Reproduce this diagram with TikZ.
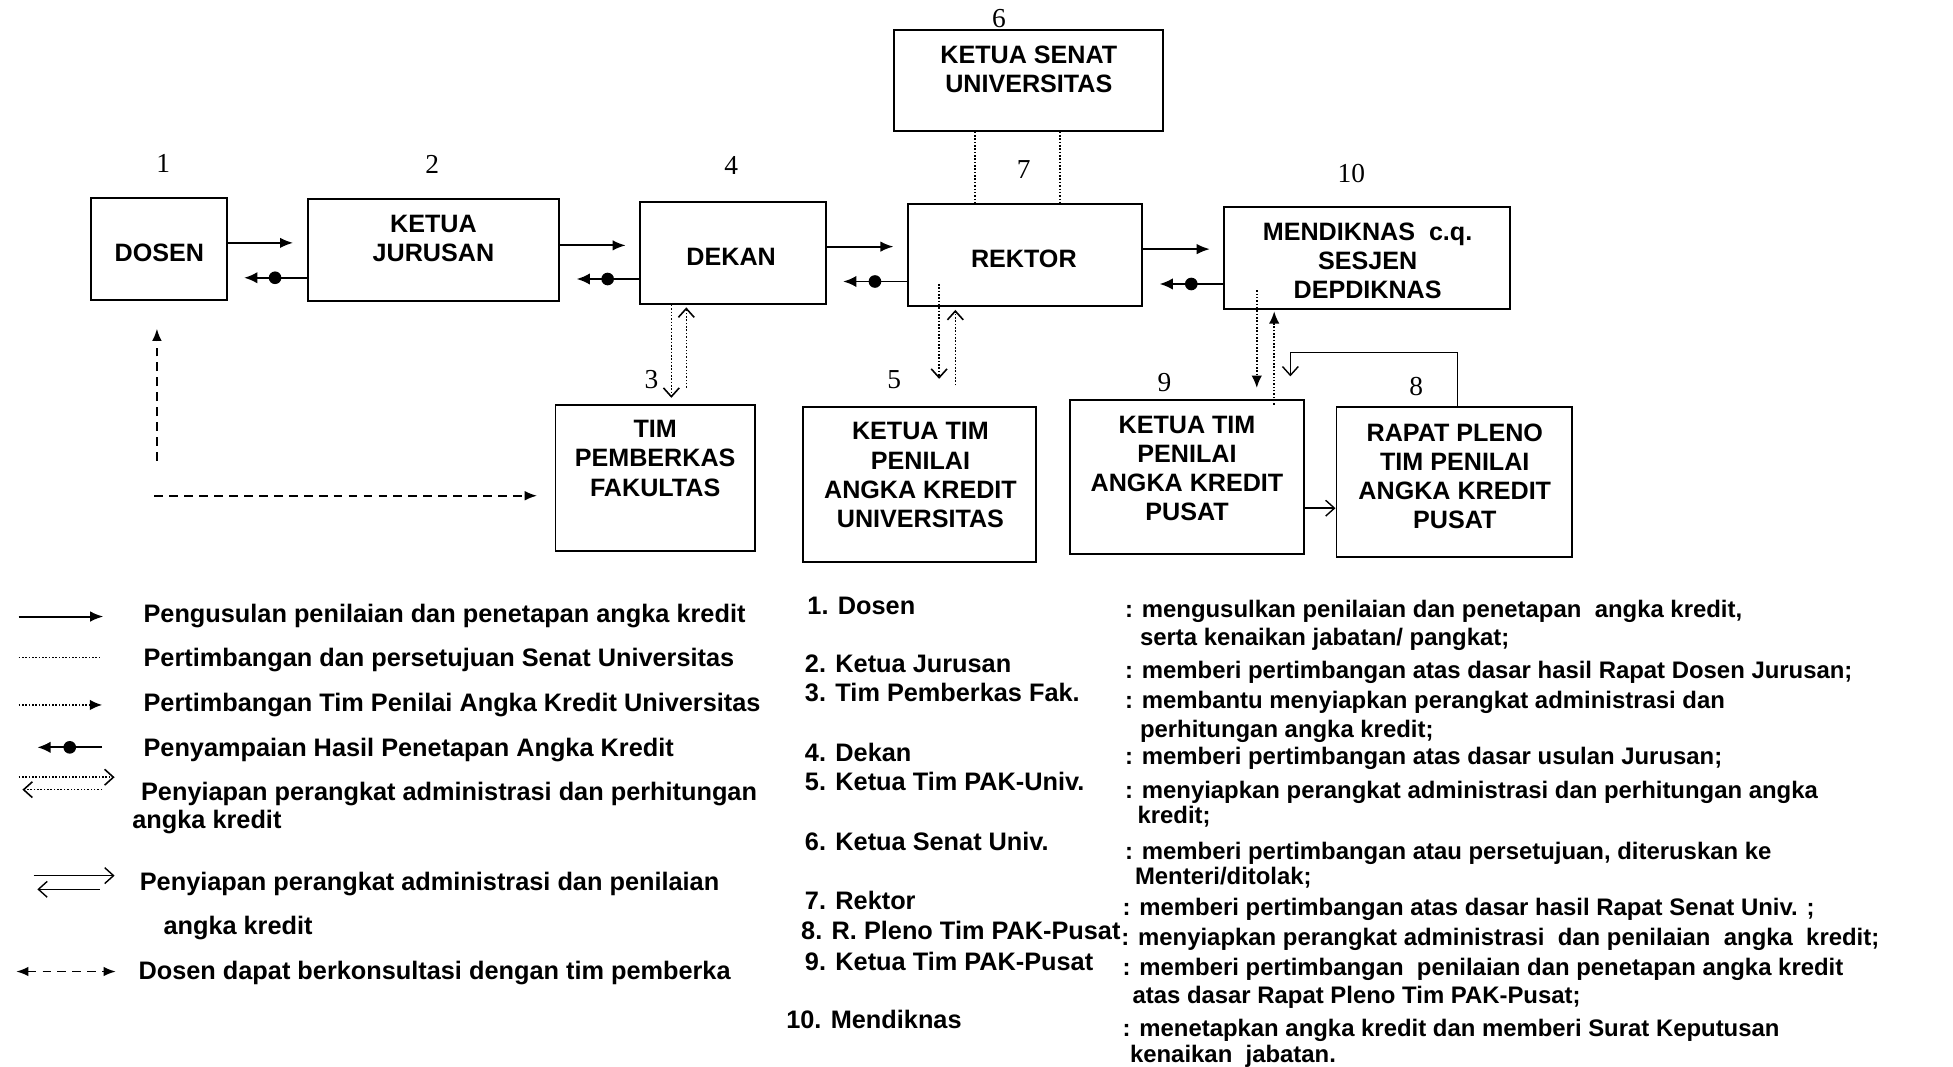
\documentclass[tikz,border=0pt]{standalone}
\usepackage{fontspec}
\setmainfont{Liberation Sans}
\newfontfamily\numfont{Liberation Serif}
\usetikzlibrary{arrows.meta,fit}

\tikzset{
  box/.style={draw, line width=1.1pt, inner sep=0pt},
  boxtext/.style={font=\bfseries\fontsize{14.3}{16.6}\selectfont, align=center, inner sep=0pt},
  num/.style={font=\numfont\fontsize{15.6}{18}\selectfont, inner sep=0pt},
  fwd/.style={line width=1.1pt, -{Latex[length=7.5pt,width=6pt]}},
  retarr/.style={line width=1.1pt, -{Latex[length=7.5pt,width=6.5pt]}},
  dotmark/.style={circle, fill, inner sep=0pt, minimum size=7.2pt},
  dotline/.style={densely dotted, line width=0.9pt},
  dotopen/.style={dotline, -{Straight Barb[length=5pt,width=9pt]}},
  dotfill/.style={dotline, -{Latex[length=7pt,width=6pt]}},
  thinopen/.style={line width=0.8pt, -{Straight Barb[length=5pt,width=9pt]}},
  konsul/.style={line width=1pt, dash pattern=on 5pt off 3.5pt, -{Latex[length=7pt,width=5.5pt]}},
  legtext/.style={font=\bfseries\fontsize{14.4}{17}\selectfont, anchor=base west, inner sep=0pt},
  desc/.style={font=\bfseries\fontsize{13.6}{16}\selectfont, anchor=base west, inner sep=0pt},
}

\begin{document}
\begin{tikzpicture}[x=2.491cm, y=-2.491cm]
      \useasboundingbox (0,0) rectangle (15.68,8.56);

      % boxes
      \node[box, fit={(7.18,0.24) (9.34,1.05)}] (senat) {};
      \node[box, fit={(0.73,1.59) (1.82,2.41)}] (dosen) {};
      \node[box, fit={(2.47,1.60) (4.49,2.42)}] (jurusan) {};
      \node[box, fit={(5.14,1.62) (6.63,2.44)}] (dekan) {};
      \node[box, fit={(7.29,1.64) (9.17,2.46)}] (rektor) {};
      \node[box, fit={(9.83,1.66) (12.12,2.48)}] (mendiknas) {};
      \node[box, fit={(4.46,3.25) (6.06,4.42)}] (pemberkas) {};
      \node[box, fit={(6.45,3.27) (8.32,4.51)}] (pakuniv) {};
      \node[box, fit={(8.59,3.21) (10.47,4.45)}] (pakpusat) {};
      \node[box, fit={(10.73,3.27) (12.62,4.47)}] (pleno) {};

      \node[boxtext] (senat-t) at (8.26, 0.56) {KETUA SENAT\\UNIVERSITAS};
      \node[boxtext] (dosen-t) at (1.28, 2.03) {DOSEN};
      \node[boxtext] (jurusan-t) at (3.48, 1.915) {KETUA\\JURUSAN};
      \node[boxtext] (dekan-t) at (5.87, 2.06) {DEKAN};
      \node[boxtext] (rektor-t) at (8.22, 2.08) {REKTOR};
      \node[boxtext] (mendiknas-t) at (10.98, 2.095) {MENDIKNAS\ \ c.q.\\SESJEN\\DEPDIKNAS};
      \node[boxtext] (pemberkas-t) at (5.26, 3.68) {TIM\\PEMBERKAS\\FAKULTAS};
      \node[boxtext] (pakuniv-t) at (7.39, 3.815) {KETUA TIM\\PENILAI\\ANGKA KREDIT\\UNIVERSITAS};
      \node[boxtext] (pakpusat-t) at (9.53, 3.76) {KETUA TIM\\PENILAI\\ANGKA KREDIT\\PUSAT};
      \node[boxtext] (pleno-t) at (11.68, 3.825) {RAPAT PLENO\\TIM PENILAI\\ANGKA KREDIT\\PUSAT};

      % numbers
      \node[num] (n6) at (8.02, 0.15) {6};
      \node[num] (n1) at (1.31, 1.31) {1};
      \node[num] (n2) at (3.47, 1.32) {2};
      \node[num] (n4) at (5.87, 1.33) {4};
      \node[num] (n7) at (8.22, 1.36) {7};
      \node[num] (n10) at (10.85, 1.39) {10};
      \node[num] (n3) at (5.23, 3.05) {3};
      \node[num] (n5) at (7.18, 3.05) {5};
      \node[num] (n9) at (9.35, 3.07) {9};
      \node[num] (n8) at (11.37, 3.10) {8};

      % usulan and hasil
      \draw[fwd, shorten >=0.27cm] (dosen.east |- 0,1.95) -- (jurusan.west |- 0,1.95);
      \draw[fwd, shorten >=0.27cm] (jurusan.east |- 0,1.97) -- (dekan.west |- 0,1.97);
      \draw[fwd, shorten >=0.27cm] (dekan.east |- 0,1.98) -- (rektor.west |- 0,1.98);
      \draw[fwd, shorten >=0.27cm] (rektor.east |- 0,2.00) -- (mendiknas.west |- 0,2.00);
      \draw[retarr, shorten >=0.33cm] (jurusan.west |- 0,2.23) -- node[dotmark, pos=0.4] (dot1) {} (dosen.east |- 0,2.23);
      \draw[retarr, shorten >=0.33cm] (dekan.west |- 0,2.24) -- node[dotmark, pos=0.4] (dot2) {} (jurusan.east |- 0,2.24);
      \draw[retarr, shorten >=0.33cm] (rektor.west |- 0,2.26) -- node[dotmark, pos=0.4] (dot3) {} (dekan.east |- 0,2.26);
      \draw[retarr, shorten >=0.33cm] (mendiknas.west |- 0,2.28) -- node[dotmark, pos=0.4] (dot4) {} (rektor.east |- 0,2.28);

      % senat
      \draw[dotline] (7.83,0 |- senat.south) -- (7.83,0 |- rektor.north);
      \draw[dotline] (8.51,0 |- senat.south) -- (8.51,0 |- rektor.north);

      % pemberkas and tim penilai
      \draw[dotopen, shorten >=0.12cm] (5.39,0 |- dekan.south) -- (5.39,0 |- pemberkas.north);
      \draw[dotopen, shorten <=0.32cm, shorten >=0.05cm] (5.51,0 |- pemberkas.north) -- (5.51,0 |- dekan.south);
      \coordinate (rektor-in) at (7.54,2.28);
      \draw[dotopen, shorten >=0.55cm] (rektor-in) -- (rektor-in |- pakuniv.north);
      \draw[dotopen, shorten <=0.42cm, shorten >=0.05cm] (7.67,0 |- pakuniv.north) -- (7.67,0 |- rektor.south);
      \coordinate (mendiknas-in) at (10.09,2.33);
      \coordinate (pakpusat-in) at (10.23,3.25);
      \draw[dotfill, shorten >=0.22cm] (mendiknas-in) -- (mendiknas-in |- pakpusat.north);
      \draw[dotfill, shorten >=0.03cm] (pakpusat-in) -- (pakpusat-in |- mendiknas.south);
      \draw[thinopen] (pakpusat.east |- 0,4.08) -- (pleno.west |- 0,4.08);
      \draw[thinopen, shorten >=0.45cm] (11.70,0 |- pleno.north) |- (10.36,2.83) -- (10.36,0 |- pakpusat.north);

      % konsultasi
      \coordinate (konsul-v) at (1.26,3.70);
      \coordinate (konsul-h) at (1.24,3.98);
      \draw[konsul, shorten >=0.55cm] (konsul-v) -- (konsul-v |- dosen.south);
      \draw[konsul, shorten >=0.35cm] (konsul-h) -- (konsul-h -| pemberkas.west);

      % legend
      \draw[fwd] (0.15,4.95) -- (0.83,4.95);
      \draw[dotline] (0.15,5.28) -- (0.81,5.28);
      \draw[dotfill] (0.15,5.66) -- (0.82,5.66);
      \draw[retarr] (0.82,6.00) -- node[dotmark, pos=0.5] (dotleg) {} (0.30,6.00);
      \draw[dotopen] (0.15,6.24) -- (0.92,6.24);
      \draw[dotopen] (0.82,6.34) -- (0.18,6.34);
      \draw[thinopen] (0.27,7.03) -- (0.92,7.03);
      \draw[thinopen] (0.80,7.14) -- (0.30,7.14);
      \draw[konsul, {Latex[length=7pt,width=5.5pt]}-{Latex[length=7pt,width=5.5pt]}] (0.13,7.80) -- (0.93,7.80);

      \node[legtext] (leg1) at (1.15, 5.00) {Pengusulan penilaian dan penetapan angka kredit};
      \node[legtext] (leg2) at (1.15, 5.35) {Pertimbangan dan persetujuan Senat Universitas};
      \node[legtext] (leg3) at (1.15, 5.71) {Pertimbangan Tim Penilai Angka Kredit Universitas};
      \node[legtext] (leg4) at (1.15, 6.07) {Penyampaian Hasil Penetapan Angka Kredit};
      \node[legtext] (leg5) at (1.13, 6.43) {Penyiapan perangkat administrasi dan perhitungan};
      \node[legtext] (leg5b) at (1.06, 6.65) {angka kredit};
      \node[legtext] (leg6) at (1.12, 7.15) {Penyiapan perangkat administrasi dan penilaian};
      \node[legtext] (leg6b) at (1.31, 7.50) {angka kredit};
      \node[legtext] (leg7) at (1.11, 7.86) {Dosen dapat berkonsultasi dengan tim pemberka};

      % keterangan
      \node[legtext] (lab1) at (6.48, 4.93) {1. Dosen};
      \node[legtext] (lab2) at (6.46, 5.40) {2. Ketua Jurusan};
      \node[legtext] (lab3) at (6.46, 5.63) {3. Tim Pemberkas Fak.};
      \node[legtext] (lab4) at (6.46, 6.11) {4. Dekan};
      \node[legtext] (lab5) at (6.46, 6.35) {5. Ketua Tim PAK-Univ.};
      \node[legtext] (lab6) at (6.46, 6.83) {6. Ketua Senat Univ.};
      \node[legtext] (lab7) at (6.46, 7.30) {7. Rektor};
      \node[legtext] (lab8) at (6.43, 7.54) {8. R. Pleno Tim PAK-Pusat};
      \node[legtext] (lab9) at (6.46, 7.79) {9. Ketua Tim PAK-Pusat};
      \node[legtext] (lab10) at (6.31, 8.26) {10. Mendiknas};

      \node[desc] (d1) at (9.03, 4.96) {: mengusulkan penilaian dan penetapan\ \ angka kredit,};
      \node[desc] (d1b) at (9.15, 5.18) {serta kenaikan jabatan/ pangkat;};
      \node[desc] (d2) at (9.03, 5.45) {: memberi pertimbangan atas dasar hasil Rapat Dosen Jurusan;};
      \node[desc] (d3) at (9.03, 5.69) {: membantu menyiapkan perangkat administrasi dan};
      \node[desc] (d3b) at (9.15, 5.92) {perhitungan angka kredit;};
      \node[desc] (d4) at (9.03, 6.14) {: memberi pertimbangan atas dasar usulan Jurusan;};
      \node[desc] (d5) at (9.03, 6.41) {: menyiapkan perangkat administrasi dan perhitungan angka};
      \node[desc] (d5b) at (9.13, 6.61) {kredit;};
      \node[desc] (d6) at (9.03, 6.90) {: memberi pertimbangan atau persetujuan, diteruskan ke};
      \node[desc] (d6b) at (9.11, 7.10) {Menteri/ditolak;};
      \node[desc] (d7) at (9.01, 7.35) {: memberi pertimbangan atas dasar hasil Rapat Senat Univ. ;};
      \node[desc] (d8) at (9.00, 7.59) {: menyiapkan perangkat administrasi\ \ dan penilaian\ \ angka\ \ kredit;};
      \node[desc] (d9) at (9.01, 7.83) {: memberi pertimbangan\ \ penilaian dan penetapan angka kredit};
      \node[desc] (d9b) at (9.09, 8.06) {atas dasar Rapat Pleno Tim PAK-Pusat;};
      \node[desc] (d10) at (9.01, 8.32) {: menetapkan angka kredit dan memberi Surat Keputusan};
      \node[desc] (d10b) at (9.07, 8.53) {kenaikan\ \ jabatan.};

    \end{tikzpicture}
\end{document}
